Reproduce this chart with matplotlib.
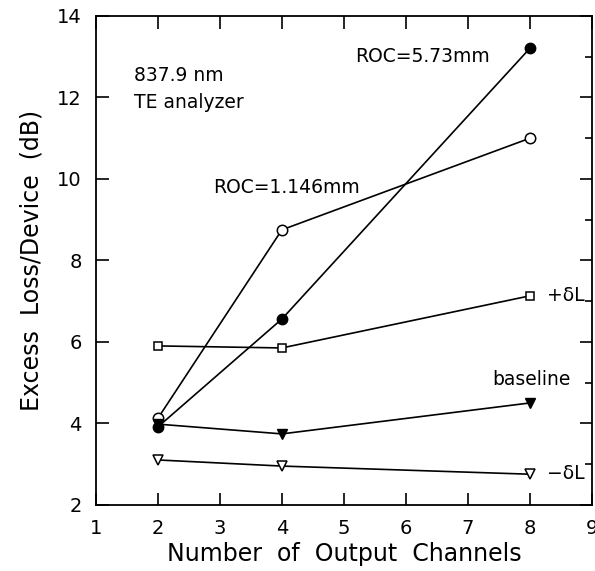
import matplotlib
matplotlib.use('Agg')
import matplotlib.pyplot as plt
from matplotlib.ticker import MultipleLocator

# output channels
channels = [2, 4, 8]
# excess loss per device (dB)
roc_573 = [3.91, 6.56, 13.21]
roc_1146 = [4.12, 8.75, 11.0]
plus_dl = [5.90, 5.85, 7.13]
baseline = [3.98, 3.74, 4.50]
minus_dl = [3.10, 2.95, 2.75]

fig = plt.figure(figsize=(5.95, 5.71), dpi=100)
ax = fig.add_axes([0.161, 0.116, 0.834, 0.856])

lw = 1.2
ax.plot(channels, roc_573, color='black', lw=lw, marker='o', ms=7.5,
        mfc='black', mec='black')
ax.plot(channels, roc_1146, color='black', lw=lw, marker='o', ms=7.5,
        mfc='white', mec='black', mew=1.1)
ax.plot(channels, plus_dl, color='black', lw=lw, marker='s', ms=6,
        mfc='white', mec='black', mew=1.1)
ax.plot(channels, baseline, color='black', lw=lw, marker='v', ms=6.5,
        mfc='black', mec='black')
ax.plot(channels, minus_dl, color='black', lw=lw, marker='v', ms=6.5,
        mfc='white', mec='black', mew=1.1)

fs = 13.5
ax.text(1.62, 12.55, '837.9 nm', fontsize=fs, va='center')
ax.text(1.62, 11.87, 'TE analyzer', fontsize=fs, va='center')
ax.text(5.18, 13.0, 'ROC=5.73mm', fontsize=fs, va='center')
ax.text(2.89, 9.78, 'ROC=1.146mm', fontsize=fs, va='center')
ax.text(8.27, 7.13, '+δL', fontsize=fs, va='center')
ax.text(7.39, 5.07, 'baseline', fontsize=fs, va='center')
ax.text(8.27, 2.76, '−δL', fontsize=fs, va='center')

ax.set_xlim(1, 9)
ax.set_ylim(2, 14)
ax.xaxis.set_major_locator(MultipleLocator(1))
ax.yaxis.set_major_locator(MultipleLocator(2))
ax.yaxis.set_minor_locator(MultipleLocator(1))
ax.tick_params(which='both', direction='in', top=True, right=True,
               labelsize=14, width=1.2)
ax.tick_params(which='major', length=9, pad=10)
ax.tick_params(which='minor', length=5)
ax.tick_params(axis='y', which='minor', left=False)
for s in ax.spines.values():
    s.set_linewidth(1.3)

ax.set_xlabel('Number  of  Output  Channels', fontsize=17, labelpad=3)
ax.set_ylabel('Excess  Loss/Device  (dB)', fontsize=17, labelpad=10)

fig.savefig('out.png', dpi=100)
